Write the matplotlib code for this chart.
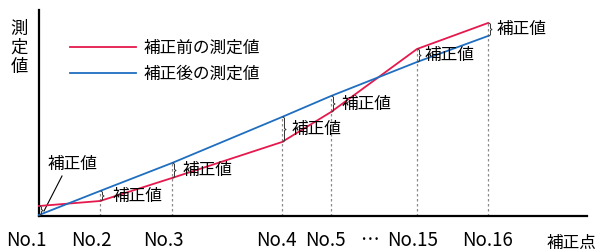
import matplotlib
matplotlib.use("Agg")
import matplotlib.pyplot as plt

plt.rcParams['font.family'] = ['Noto Sans CJK JP', 'DejaVu Sans']

# ---- data ----
points = ["No.1", "No.2", "No.3", "No.4", "No.5", "No.15", "No.16"]
point_x = [0, 61, 133, 243, 292, 378, 449]
before = [10, 15, 38, 74, 104, 167, 193]   # 補正前の測定値
after = [1, 25, 53, 99, 120, 154, 180]     # 補正後の測定値
series_names = ["補正前の測定値", "補正後の測定値"]
corr_label = "補正値"
ylabel = "測\n定\n値"
xlabel = "補正点"

RED = "#e5194d"
BLUE = "#1f6ec0"

W, H = 604, 252
fig = plt.figure(figsize=(W / 100, H / 100), dpi=100)
ax = fig.add_axes([39 / W, (H - 216) / H, 548 / W, 206 / H])
ax.set_xlim(0, 548)
ax.set_ylim(0, 206)
for s in ["top", "right"]:
    ax.spines[s].set_visible(False)
for s in ["left", "bottom"]:
    ax.spines[s].set_linewidth(1.6)
    ax.spines[s].set_color("black")
ax.set_xticks([])
ax.set_yticks([])
ax.patch.set_alpha(0)

# dotted guides
for x, r, b in zip(point_x[1:], before[1:], after[1:]):
    ax.plot([x, x], [0, max(r, b)], color="#8a8a8a", lw=0.9,
            ls=(0, (2, 2)), zorder=1)

ax.plot(point_x, before, color=RED, lw=1.3, zorder=3, clip_on=False,
        label=series_names[0])
ax.plot(point_x, after, color=BLUE, lw=1.3, zorder=3, clip_on=False,
        label=series_names[1])

# braces and labels
def brace(x, y1, y2):
    lo, hi = min(y1, y2), max(y1, y2)
    mid = (lo + hi) / 2
    xs = [x + 1, x + 2.5, x + 2.5, x + 4, x + 2.5, x + 2.5, x + 1]
    ys = [lo, lo + 1.2, mid - 1, mid, mid + 1, hi - 1.2, hi]
    ax.plot(xs, ys, color="#333333", lw=0.7, zorder=4, clip_on=False)

label_dx = [None, 13, 11, 10, 11, 8, 9]
for i, (x, r, b) in enumerate(zip(point_x, before, after)):
    brace(x, r, b)
    if i == 0:
        continue
    ax.text(x + label_dx[i], (r + b) / 2, corr_label, fontsize=12,
            ha="left", va="center", zorder=5)

# No.1 label with leader line
ax.text(9, 51, corr_label, fontsize=12, ha="left", va="center")
ax.plot([23, 5], [40, 5], color="black", lw=0.8, clip_on=False)

# legend
leg = ax.legend(loc="upper left", bbox_to_anchor=(24 / 548, (216 - 33) / 206),
                frameon=False, fontsize=12, handlelength=4.0,
                handletextpad=0.45, labelspacing=0.55, borderaxespad=0)

# axis labels
fig.text(19 / W, 1 - 48 / H, ylabel, fontsize=12.5, ha="center", va="center",
         linespacing=1.05)
fig.text(547 / W, 1 - 243 / H, xlabel, fontsize=12, ha="left", va="center")

# category labels
label_off = [-13, -9, -8.5, -6, -6, -4, -1]
for x, name, off in zip(point_x, points, label_off):
    ax.text(x + off, -25, name, fontsize=13.5, ha="center", va="center",
            clip_on=False)
ax.text(331, -25, "…", fontsize=13.5, ha="center", va="center", clip_on=False)

fig.savefig("out.png", dpi=100)
